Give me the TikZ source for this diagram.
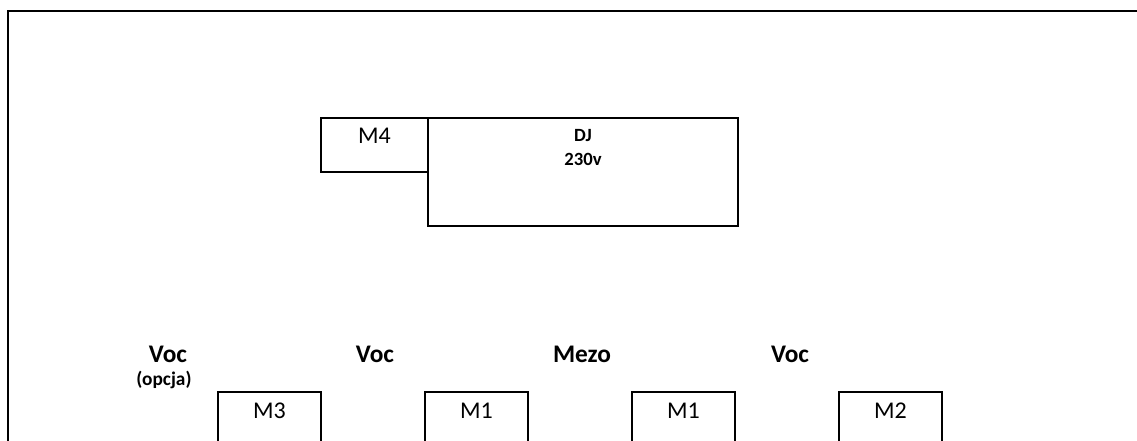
\documentclass[tikz,border=0pt]{standalone}
\usepackage{fontspec}
\setmainfont{Carlito}
\usetikzlibrary{positioning}

\begin{document}
\begin{tikzpicture}[
    x=0.75pt, y=-0.75pt,
    node distance=78pt,
    stage/.style={draw, line width=1.5pt, inner sep=0pt, outer sep=0pt, align=center,
        font=\bfseries\fontsize{14}{17.5}\selectfont, minimum width=232.5pt,
        text height=35.25pt, text depth=45.75pt},
    mic/.style={draw, line width=1.5pt, inner sep=0pt, outer sep=0pt, minimum width=77.25pt,
        text height=19.5pt, text depth=40.5pt, font=\fontsize{18}{22}\selectfont},
    part/.style={font=\bfseries\fontsize{19}{23}\selectfont, inner sep=0pt, anchor=base},
    note/.style={font=\bfseries\fontsize{14.5}{17}\selectfont, inner sep=0pt, anchor=base}
]
\clip (0,0) rectangle (1137,440);
\draw[line width=2pt] (8,445) |- (1140,11);

% stage
\node[stage, anchor=north west] (dj) at (428,118) {DJ\\230v};
\node[mic, below left=0pt of dj.north west, minimum width=80.25pt,
    text height=18.75pt, text depth=21.75pt] (m4) {M4};

% front mics
\node[mic, anchor=north west] (m3) at (218,392) {M3};
\node[mic, right=of m3] (m1a) {M1};
\node[mic, right=of m1a] (m1b) {M1};
\node[mic, right=of m1b] (m2) {M2};

% parts
\node[part] (voc3) at (168,362) {Voc};
\node[note] (opt) at (164,385) {(opcja)};
\node[part] (voc1) at (375,362) {Voc};
\node[part] (mezo) at (582,362) {Mezo};
\node[part] (voc2) at (790,362) {Voc};
\end{tikzpicture}
\end{document}
